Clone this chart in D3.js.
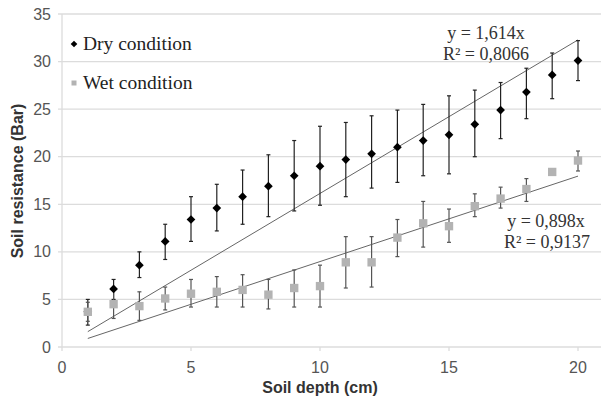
<!DOCTYPE html>
<html>
<head>
<meta charset="utf-8">
<script src="https://d3js.org/d3.v7.min.js"></script>
<style>
  body { margin:0; padding:0; background:#fff; }
</style>
</head>
<body>
<script>
// soil depth (cm)
var depth = [1,2,3,4,5,6,7,8,9,10,11,12,13,14,15,16,17,18,19,20];

// dry condition: mean, lower and upper end of error bar
var dryMean = [3.7, 6.1, 8.6, 11.1, 13.4, 14.6, 15.8, 16.9, 18.0, 19.0, 19.7, 20.3, 21.0, 21.7, 22.3, 23.4, 24.9, 26.8, 28.6, 30.1];
var dryLow  = [2.3, 5.0, 7.3, 9.2, 11.1, 12.2, 12.9, 13.7, 14.3, 14.9, 15.8, 16.7, 17.3, 18.0, 18.2, 20.0, 21.9, 24.0, 26.1, 28.0];
var dryHigh = [5.0, 7.1, 10.0, 12.9, 15.8, 17.1, 18.6, 20.2, 21.7, 23.2, 23.6, 24.3, 24.9, 25.5, 26.4, 27.0, 27.8, 29.3, 30.9, 32.2];

// wet condition
var wetMean = [3.7, 4.5, 4.3, 5.1, 5.6, 5.8, 6.0, 5.5, 6.2, 6.4, 8.9, 8.9, 11.5, 13.0, 12.7, 14.8, 15.6, 16.6, 18.4, 19.6];
var wetLow  = [2.7, 3.0, 2.8, 3.9, 4.2, 4.2, 4.2, 4.0, 4.2, 4.2, 6.2, 6.3, 9.5, 10.5, 11.0, 13.7, 14.6, 15.3, 18.1, 18.5];
var wetHigh = [4.7, 6.0, 5.8, 6.3, 7.1, 7.4, 7.6, 7.1, 8.1, 8.6, 11.6, 11.6, 13.4, 15.3, 14.5, 16.1, 16.8, 17.7, 18.7, 20.6];

// trend line slopes
var drySlope = 1.614, wetSlope = 0.898;

var xTicks = [0,5,10,15,20];
var yTicks = [0,5,10,15,20,25,30,35];

var width = 601, height = 400;

var svg = d3.select("body").append("svg")
    .attr("width", width)
    .attr("height", height);

var x = d3.scaleLinear().domain([0, 20]).range([62, 578]);
var y = d3.scaleLinear().domain([0, 35]).range([347, 14]);

// gridlines
svg.append("g").selectAll("line").data(yTicks).enter().append("line")
    .attr("x1", 58).attr("x2", width)
    .attr("y1", function(d){ return y(d); })
    .attr("y2", function(d){ return y(d); })
    .attr("stroke", "#dcdcdc").attr("stroke-width", 1.3);

// y axis line
svg.append("line")
    .attr("x1", x(0)).attr("x2", x(0))
    .attr("y1", y(0)).attr("y2", y(35))
    .attr("stroke", "#dcdcdc").attr("stroke-width", 1.3);

// x ticks
svg.append("g").selectAll("line").data(xTicks).enter().append("line")
    .attr("x1", function(d){ return x(d); })
    .attr("x2", function(d){ return x(d); })
    .attr("y1", y(0)).attr("y2", y(0) + 4)
    .attr("stroke", "#dcdcdc").attr("stroke-width", 1.3);

// tick labels
svg.append("g").selectAll("text").data(yTicks).enter().append("text")
    .attr("x", 51)
    .attr("y", function(d){ return y(d) + 5.5; })
    .attr("text-anchor", "end")
    .attr("font-family", "Liberation Sans, Arial, sans-serif")
    .attr("font-size", 16)
    .attr("fill", "#555")
    .text(function(d){ return d; });

svg.append("g").selectAll("text").data(xTicks).enter().append("text")
    .attr("x", function(d){ return x(d); })
    .attr("y", 373)
    .attr("text-anchor", "middle")
    .attr("font-family", "Liberation Sans, Arial, sans-serif")
    .attr("font-size", 16)
    .attr("fill", "#555")
    .text(function(d){ return d; });

// axis titles
svg.append("text")
    .attr("x", 320).attr("y", 393)
    .attr("text-anchor", "middle")
    .attr("font-family", "Liberation Sans, Arial, sans-serif")
    .attr("font-weight", "bold")
    .attr("font-size", 16)
    .attr("fill", "#333")
    .text("Soil depth (cm)");

svg.append("text")
    .attr("transform", "translate(23,181) rotate(-90)")
    .attr("text-anchor", "middle")
    .attr("font-family", "Liberation Sans, Arial, sans-serif")
    .attr("font-weight", "bold")
    .attr("font-size", 16)
    .attr("fill", "#333")
    .text("Soil resistance (Bar)");

// trend lines
function trend(slope) {
    svg.append("line")
        .attr("x1", x(1)).attr("y1", y(slope * 1))
        .attr("x2", x(20)).attr("y2", y(slope * 20))
        .attr("stroke", "#666").attr("stroke-width", 1);
}
trend(drySlope);
trend(wetSlope);

// error bars
function errorBars(low, high, color) {
    var g = svg.append("g").attr("stroke", color).attr("stroke-width", 1.2);
    depth.forEach(function(d, i) {
        g.append("line")
            .attr("x1", x(d)).attr("x2", x(d))
            .attr("y1", y(low[i])).attr("y2", y(high[i]));
        g.append("line")
            .attr("x1", x(d) - 2).attr("x2", x(d) + 2)
            .attr("y1", y(low[i])).attr("y2", y(low[i]));
        g.append("line")
            .attr("x1", x(d) - 2).attr("x2", x(d) + 2)
            .attr("y1", y(high[i])).attr("y2", y(high[i]));
    });
}
errorBars(dryLow, dryHigh, "#222");
errorBars(wetLow, wetHigh, "#555");

// diamond = square turned 45 degrees
var diamond = d3.symbol().type(d3.symbolSquare).size(38);
var square = d3.symbol().type(d3.symbolSquare).size(70);

svg.append("g").selectAll("path").data(depth).enter().append("path")
    .attr("d", diamond)
    .attr("transform", function(d, i){ return "translate(" + x(d) + "," + y(dryMean[i]) + ") rotate(45)"; })
    .attr("fill", "#000");

svg.append("g").selectAll("path").data(depth).enter().append("path")
    .attr("d", square)
    .attr("transform", function(d, i){ return "translate(" + x(d) + "," + y(wetMean[i]) + ")"; })
    .attr("fill", "#b3b3b3");

// legend
svg.append("path")
    .attr("d", d3.symbol().type(d3.symbolSquare).size(22))
    .attr("transform", "translate(74,44) rotate(45)")
    .attr("fill", "#000");
svg.append("text")
    .attr("x", 83).attr("y", 50)
    .attr("font-family", "Liberation Serif, Times New Roman, serif")
    .attr("font-size", 19.5)
    .attr("fill", "#222")
    .text("Dry condition");

svg.append("path")
    .attr("d", d3.symbol().type(d3.symbolSquare).size(25))
    .attr("transform", "translate(74,83)")
    .attr("fill", "#b3b3b3");
svg.append("text")
    .attr("x", 83).attr("y", 89)
    .attr("font-family", "Liberation Serif, Times New Roman, serif")
    .attr("font-size", 19.5)
    .attr("fill", "#222")
    .text("Wet condition");

// equations
function label(cx, by, txt) {
    svg.append("text")
        .attr("x", cx).attr("y", by)
        .attr("text-anchor", "middle")
        .attr("font-family", "Liberation Serif, Times New Roman, serif")
        .attr("font-size", 18)
        .attr("fill", "#333")
        .text(txt);
}
label(486, 39, "y = 1,614x");
label(486, 60, "R\u00b2 = 0,8066");
label(546, 227, "y = 0,898x");
label(547, 248, "R\u00b2 = 0,9137");
</script>
</body>
</html>
